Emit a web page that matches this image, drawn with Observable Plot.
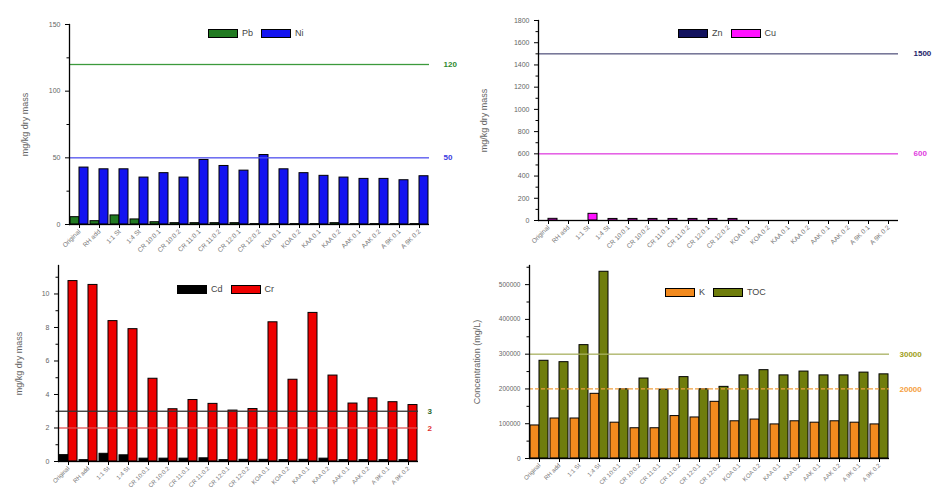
<!DOCTYPE html>
<html><head><meta charset="utf-8">
<script src="https://cdn.jsdelivr.net/npm/d3@7"></script>
<script src="https://cdn.jsdelivr.net/npm/@observablehq/plot@0.6"></script>
<style>
body{margin:0;background:#fff;font-family:"Liberation Sans",Arial,sans-serif;}
#root{position:relative;width:947px;height:494px;overflow:hidden;background:#fff;}
.panel{position:absolute;}
.panel svg{overflow:visible;}
.legend{position:absolute;display:flex;align-items:center;font-size:9px;color:#444;line-height:10px;}
.legend .sw{display:inline-block;width:28px;height:7px;border:1px solid #000;margin-right:4px;}
.legend .lb{margin-right:8px;}
</style></head><body><div id="root"></div>
<script>
const categories = ["Original","RH add","1:1 St","1:4 St","CR 10:0.1","CR 10:0.2","CR 11:0.1","CR 11:0.2","CR 12:0.1","CR 12:0.2","KOA 0.1","KOA 0.2","KAA 0.1","KAA 0.2","AAK 0.1","AAK 0.2","A 9K 0.1","A 9K 0.2"];

const pbValues = [5.5,2.5,6.8,3.8,1.7,1.0,1.0,1.0,1.0,0.3,0.3,0.3,0.3,1.0,0.3,0.3,0.3,0.3];
const niValues = [42.7,41.4,41.4,35.2,38.5,35.2,48.4,43.9,40.4,52.1,41.4,38.5,36.5,35.2,34.2,34.2,33.2,36.2];

const znValues = [0,0,0,0,0,0,0,0,0,0,0,0,0,0,0,0,0,0];
const cuValues = [15,null,60,14,14,14,14,14,14,14,null,null,null,null,null,null,null,null];

const cdValues = [0.38,0.08,0.46,0.37,0.17,0.17,0.17,0.19,0.08,0.1,0.1,0.08,0.1,0.17,0.08,0.08,0.08,0.08];
const crValues = [10.77,10.54,8.38,7.9,4.94,3.12,3.67,3.44,3.04,3.13,8.31,4.88,8.87,5.13,3.46,3.77,3.54,3.37];

const kValues = [95000,115000,115000,186000,103000,87000,87000,122000,118000,163000,107000,112000,98000,107000,103000,107000,103000,98000];
const tocValues = [281000,277000,326000,537000,199000,230000,198000,234000,199000,206000,239000,254000,239000,250000,239000,239000,247000,242000];

const root = document.getElementById("root");

function panel(o) {
  const data = [];
  categories.forEach((c, i) => o.series.forEach((s, j) => {
    const v = o.values[j][i];
    if (v != null) data.push({cat: c, series: s, value: v});
  }));
  const last = categories[categories.length - 1];
  const fmt = o.tickFormat || (d => String(d));
  const plot = Plot.plot({
    width: o.width, height: o.height,
    marginLeft: o.m[0], marginTop: o.m[1], marginRight: o.m[2], marginBottom: o.m[3],
    style: {fontFamily: "Liberation Sans, Arial, sans-serif", color: "#555", background: "transparent", overflow: "visible"},
    fx: {domain: categories, padding: 0, label: null},
    x: {domain: o.series, axis: null, paddingInner: 0, paddingOuter: 0.1},
    y: {domain: o.yDomain},
    color: {domain: o.series, range: o.colors},
    marks: [
      Plot.barY(data, {fx: "cat", x: "series", y: "value", fill: "series", stroke: "#000", strokeWidth: 1}),
      ...o.thresholds.map(t => Plot.ruleY([t.value], {stroke: t.line, strokeWidth: 1.3, strokeDasharray: t.dash || null})),
      ...o.thresholds.map(t => Plot.text([t], {fx: () => last, y: "value", text: "label", frameAnchor: "right", textAnchor: "start", dx: o.labelDx, fill: t.text, fontSize: 8, fontWeight: "bold"})),
      Plot.ruleY([0], {stroke: "#000", strokeWidth: 1.3}),
      Plot.frame({anchor: "left", facetAnchor: "left", stroke: "#000", strokeWidth: 1.3}),
      Plot.axisY({ticks: o.yTicks, tickSize: 4, fontSize: o.yFont || 7, tickFormat: fmt, stroke: "#000", fill: "#666", label: o.yLabel, labelAnchor: "center", labelOffset: o.labelOffset, labelArrow: "none"}),
      Plot.axisY({ticks: o.yMinor, tickSize: 2.5, tickFormat: () => "", stroke: "#000", label: null}),
      Plot.axisFx({anchor: "bottom", tickRotate: -45, tickSize: 4, tickPadding: 2, fontSize: o.xFont || 6.5, stroke: "#000", fill: "#777", label: null})
    ]
  });
  const div = document.createElement("div");
  div.className = "panel";
  div.style.left = o.left + "px";
  div.style.top = o.top + "px";
  div.appendChild(plot);
  root.appendChild(div);
  plot.querySelectorAll("g[aria-label='y-axis label'] text").forEach(t => t.setAttribute("font-size", 9));
  const lg = document.createElement("div");
  lg.className = "legend";
  lg.style.left = o.legend[0] + "px";
  lg.style.top = (o.legend[1] - 5) + "px";
  o.series.forEach((s, j) => {
    const sw = document.createElement("span");
    sw.className = "sw"; sw.style.background = o.colors[j];
    const lb = document.createElement("span");
    lb.className = "lb"; lb.textContent = s;
    lg.appendChild(sw); lg.appendChild(lb);
  });
  root.appendChild(lg);
}

panel({left: 0, top: 0, width: 480, height: 250, m: [62, 24, 45, 26],
  series: ["Pb", "Ni"], colors: ["#217a21", "#1414f0"], values: [pbValues, niValues],
  yDomain: [0, 150], yTicks: [0, 50, 100, 150], yMinor: [25, 75, 125],
  yLabel: "mg/kg dry mass", labelOffset: 48, labelDx: 14,
  thresholds: [{value: 120, label: "120", line: "#3c9a3c", text: "#2e8a2e"}, {value: 50, label: "50", line: "#5050ee", text: "#3a3ae0"}],
  legend: [208, 33]});

panel({left: 470, top: 0, width: 477, height: 250, m: [62, 20, 44, 30],
  series: ["Zn", "Cu"], colors: ["#12125e", "#ff10ff"], values: [znValues, cuValues],
  yDomain: [0, 1800], yTicks: d3.range(0, 1801, 200), yMinor: d3.range(100, 1800, 200),
  yLabel: "mg/kg dry mass", labelOffset: 58, labelDx: 15,
  thresholds: [{value: 1500, label: "1500", line: "#5a5a82", text: "#1e1e6a"}, {value: 600, label: "600", line: "#e040e0", text: "#e040e0"}],
  legend: [678, 33]});

panel({left: 0, top: 250, width: 470, height: 244, m: [53, 15, 47, 33],
  series: ["Cd", "Cr"], colors: ["#000000", "#ee0000"], values: [cdValues, crValues],
  yDomain: [0, 11.7], yTicks: [0, 2, 4, 6, 8, 10], yMinor: [1, 3, 5, 7, 9, 11],
  yLabel: "mg/kg dry mass", labelOffset: 43, labelDx: 9, xFont: 6,
  thresholds: [{value: 3, label: "3", line: "#333333", text: "#2d6a2d"}, {value: 2, label: "2", line: "#e05050", text: "#e03030"}],
  legend: [177, 289]});

panel({left: 470, top: 250, width: 477, height: 244, m: [53, 15, 52, 36],
  series: ["K", "TOC"], colors: ["#f28a1e", "#6f7d0c"], values: [kValues, tocValues],
  yDomain: [0, 555000], yTicks: d3.range(0, 500001, 100000), yMinor: d3.range(50000, 555000, 100000),
  yLabel: "Concentration (mg/L)", labelOffset: 56, labelDx: 10, yFont: 6.5, xFont: 6,
  thresholds: [{value: 300000, label: "30000", line: "#a8b060", text: "#a0a020"}, {value: 200000, label: "20000", line: "#f0a040", text: "#f5a040", dash: "4,2"}],
  legend: [665, 292]});
</script>
</body></html>
